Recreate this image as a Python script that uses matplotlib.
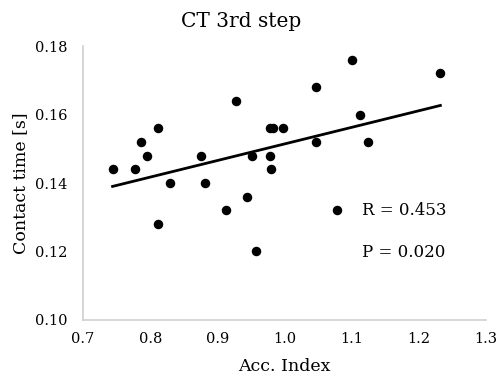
import numpy as np
import matplotlib
matplotlib.use("Agg")
import matplotlib.pyplot as plt

# Acc. Index vs contact time (3rd step), n = 26
acc_index = [0.744, 0.778, 0.787, 0.795, 0.811, 0.829, 0.811, 0.875, 0.882,
             0.928, 0.913, 0.944, 0.958, 0.952, 0.978, 0.983, 0.998, 0.979,
             0.980, 1.047, 1.100, 1.232, 1.113, 1.047, 1.125, 1.078]
contact_time = [0.144, 0.144, 0.152, 0.148, 0.156, 0.140, 0.128, 0.148, 0.140,
                0.164, 0.132, 0.136, 0.120, 0.148, 0.156, 0.156, 0.156, 0.148,
                0.144, 0.168, 0.176, 0.172, 0.160, 0.152, 0.152, 0.132]
x_ticks = [0.7, 0.8, 0.9, 1.0, 1.1, 1.2, 1.3]
y_ticks = [0.10, 0.12, 0.14, 0.16, 0.18]
r_text = "R = 0.453"
p_text = "P = 0.020"

plt.rcParams['font.family'] = ['DejaVu Serif']

fig = plt.figure(figsize=(4.98, 3.79), dpi=100)
ax = fig.add_axes([0.1667, 0.1557, 0.8093, 0.7229])

x = np.array(acc_index)
y = np.array(contact_time)
ax.scatter(x, y, s=34, color='black', zorder=3)

# linear trend line over data range
k, b = np.polyfit(x, y, 1)
xs = np.array([x.min(), x.max()])
ax.plot(xs, k * xs + b, color='black', lw=2)

ax.set_xlim(0.7, 1.3)
ax.set_ylim(0.10, 0.18)
ax.set_xticks(x_ticks)
ax.set_xticklabels([f"{v:.1f}" for v in x_ticks])
ax.set_yticks(y_ticks)
ax.set_yticklabels([f"{v:.2f}" for v in y_ticks])
ax.tick_params(length=0, labelsize=10.5)
ax.tick_params(axis='y', pad=11.5)
ax.tick_params(axis='x', pad=9)

for s in ['top', 'right']:
    ax.spines[s].set_visible(False)
for s in ['left', 'bottom']:
    ax.spines[s].set_color('#d0d0d0')
    ax.spines[s].set_linewidth(1.2)

fig.text(0.484, 0.942, "CT 3rd step", fontsize=14.5, ha='center', va='center')
ax.set_xlabel("Acc. Index", fontsize=12.5, labelpad=8)
ax.set_ylabel("Contact time [s]", fontsize=12.5, labelpad=4)

ax.text(1.115, 0.132, r_text, fontsize=12, ha='left', va='center')
ax.text(1.115, 0.1196, p_text, fontsize=12, ha='left', va='center')

fig.savefig("out.png", dpi=100)
